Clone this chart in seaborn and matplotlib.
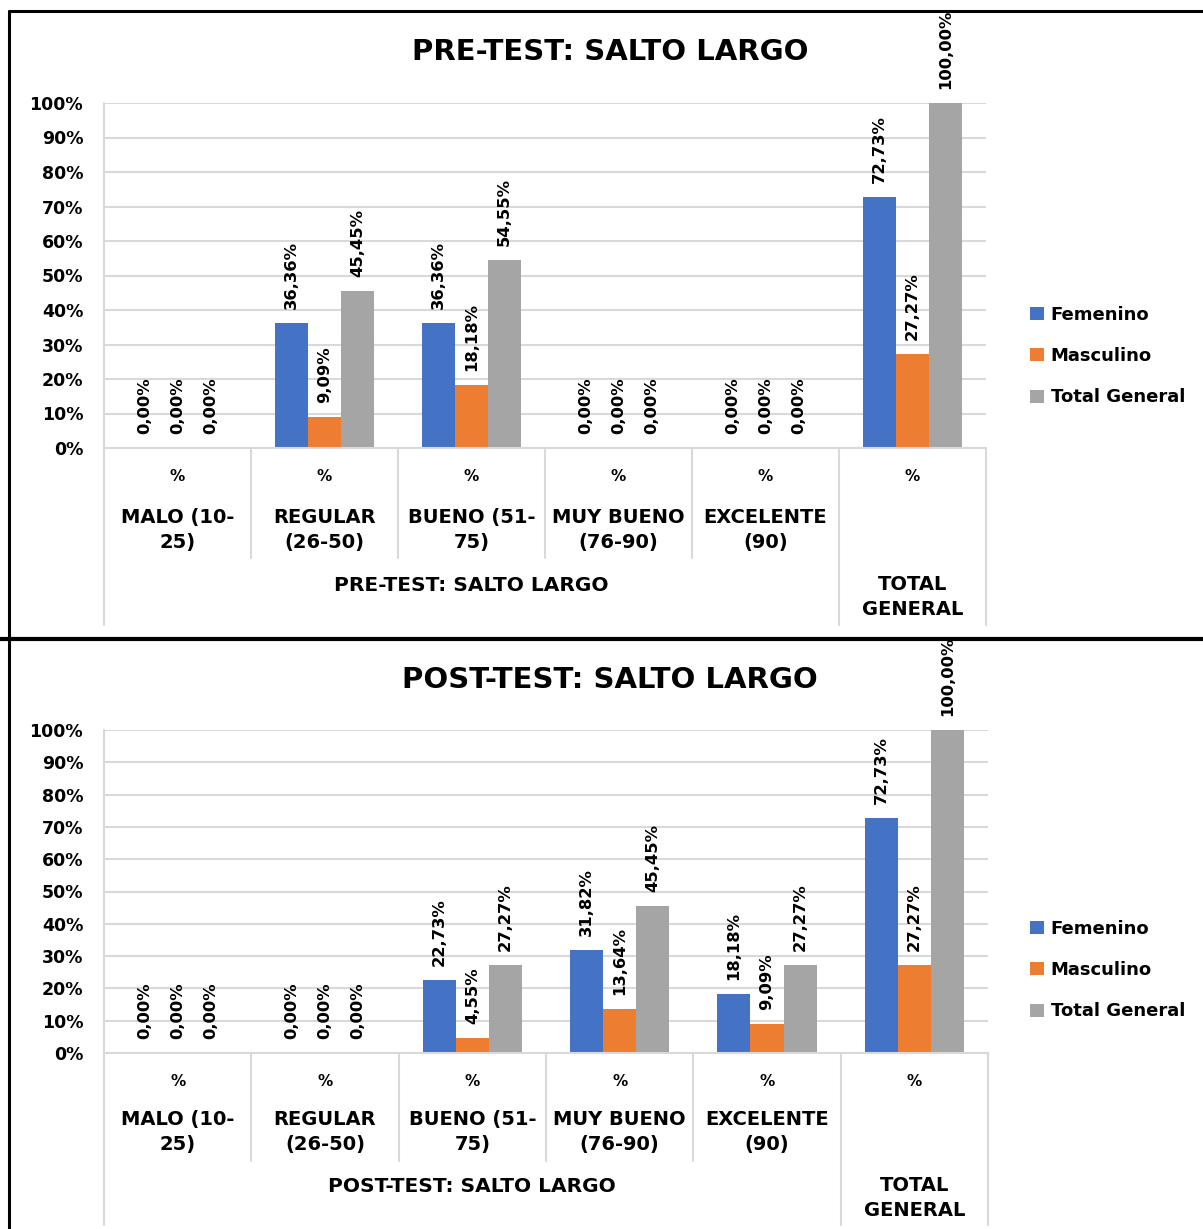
import matplotlib
matplotlib.use("Agg")
import matplotlib.pyplot as plt
import matplotlib.transforms as mtransforms
from matplotlib.lines import Line2D
import numpy as np
import pandas as pd
import seaborn as sns

W, H = 1203, 1229

categories = ["MALO (10-25)", "REGULAR (26-50)", "BUENO (51-75)",
              "MUY BUENO (76-90)", "EXCELENTE (90)", "TOTAL GENERAL"]
category_lines = ["MALO (10-\n25)", "REGULAR\n(26-50)", "BUENO (51-\n75)",
                  "MUY BUENO\n(76-90)", "EXCELENTE\n(90)", ""]
series = ["Femenino", "Masculino", "Total General"]
colors = ["#4472C4", "#ED7D31", "#A5A5A5"]

pre_femenino = [0.00, 36.36, 36.36, 0.00, 0.00, 72.73]
pre_masculino = [0.00, 9.09, 18.18, 0.00, 0.00, 27.27]
pre_total = [0.00, 45.45, 54.55, 0.00, 0.00, 100.00]

post_femenino = [0.00, 0.00, 22.73, 31.82, 18.18, 72.73]
post_masculino = [0.00, 0.00, 4.55, 13.64, 9.09, 27.27]
post_total = [0.00, 0.00, 27.27, 45.45, 27.27, 100.00]

yticks = list(range(0, 101, 10))

sns.set_style("white")
plt.rcParams["font.family"] = ["DejaVu Sans"]
plt.rcParams["text.color"] = "black"

fig = plt.figure(figsize=(W / 100, H / 100), dpi=100)


def fy(y):
    return 1 - y / H


def pct(v):
    return f"{v:.2f}".replace(".", ",") + "%"


def draw_panel(box, fem, mas, tot, title, group_label, title_y, pct_y, name_y,
               inner_bottom, group_y, total_y, outer_bottom, legend_y):
    left, top, right, bottom = box
    ax = fig.add_axes([left / W, fy(bottom), (right - left) / W, (bottom - top) / H])

    df = pd.DataFrame({
        "categoria": categories * 3,
        "serie": np.repeat(series, len(categories)),
        "valor": fem + mas + tot,
    })
    sns.barplot(data=df, x="categoria", y="valor", hue="serie",
                order=categories, hue_order=series, palette=colors,
                width=0.673, saturation=1, errorbar=None, linewidth=0, ax=ax)

    for cont in ax.containers:
        ax.bar_label(cont, labels=[pct(v) for v in cont.datavalues],
                     padding=10, rotation=90, fontsize=11.8,
                     fontweight="bold", annotation_clip=False)

    ax.set_xlim(-0.5, 5.5)
    ax.set_ylim(0, 100)
    ax.set_yticks(yticks)
    ax.set_yticklabels([f"{t}%" for t in yticks], fontweight="bold")
    ax.tick_params(axis="y", length=0, pad=15, labelsize=12.5, labelcolor="black")
    ax.set_xticks([])
    ax.set_xlabel("")
    ax.set_ylabel("")
    ax.yaxis.grid(True, color="#D9D9D9", lw=1.5)
    ax.set_axisbelow(True)
    for s in ["left", "right", "top"]:
        ax.spines[s].set_visible(False)
    ax.spines["bottom"].set_color("#D9D9D9")
    ax.spines["bottom"].set_linewidth(1.5)

    # category axis: separators and multi-level labels
    trans = mtransforms.blended_transform_factory(ax.transData, fig.transFigure)
    ax.plot([-0.5, -0.5], [fy(top), fy(outer_bottom)], color="#D9D9D9",
            lw=1.5, transform=trans, clip_on=False)
    for xs in [0.5, 1.5, 2.5, 3.5]:
        ax.plot([xs, xs], [fy(bottom), fy(inner_bottom)], color="#D9D9D9",
                lw=1.5, transform=trans, clip_on=False)
    for xs in [4.5, 5.5]:
        ax.plot([xs, xs], [fy(bottom), fy(outer_bottom)], color="#D9D9D9",
                lw=1.5, transform=trans, clip_on=False)

    for i, name in enumerate(category_lines):
        ax.text(i, fy(pct_y), "%", transform=trans, ha="center", va="center",
                fontsize=11, fontweight="bold")
        if name:
            ax.text(i, fy(name_y), name, transform=trans, ha="center",
                    va="center", fontsize=14, fontweight="bold", linespacing=1.35)
    ax.text(2, fy(group_y), group_label, transform=trans, ha="center",
            va="center", fontsize=14.5, fontweight="bold")
    ax.text(5, fy(total_y), "TOTAL\nGENERAL", transform=trans, ha="center",
            va="center", fontsize=14, fontweight="bold", linespacing=1.35)

    fig.text(610 / W, fy(title_y), title, ha="center", va="center",
             fontsize=21, fontweight="bold")

    old = ax.get_legend()
    handles = old.legend_handles
    labels = [t.get_text() for t in old.get_texts()]
    ax.legend(handles, labels, loc="center left",
              bbox_to_anchor=(1030 / W, fy(legend_y)),
              bbox_transform=fig.transFigure, frameon=False,
              prop={"size": 13, "weight": "bold"}, handlelength=0.75,
              handleheight=0.75, handletextpad=0.4, labelspacing=1.3,
              borderpad=0, borderaxespad=0)
    return ax


draw_panel((104, 103, 986, 448), pre_femenino, pre_masculino, pre_total,
           "PRE-TEST: SALTO LARGO", "PRE-TEST: SALTO LARGO",
           title_y=52, pct_y=476, name_y=530, inner_bottom=558, group_y=585,
           total_y=597, outer_bottom=625, legend_y=356)

draw_panel((104, 730, 988, 1053), post_femenino, post_masculino, post_total,
           "POST-TEST: SALTO LARGO", "POST-TEST: SALTO LARGO",
           title_y=680, pct_y=1081, name_y=1132, inner_bottom=1161, group_y=1186,
           total_y=1198, outer_bottom=1225, legend_y=970)

# chart frames
for xs, ys, lw in [([9 / W, 9 / W], [fy(11), 0], 2.2),
                   ([9 / W, 1], [fy(11), fy(11)], 2.2),
                   ([0, 1], [fy(638.5), fy(638.5)], 3.0)]:
    fig.add_artist(Line2D(xs, ys, color="black", lw=lw, transform=fig.transFigure))

fig.savefig("out.png", dpi=100)
